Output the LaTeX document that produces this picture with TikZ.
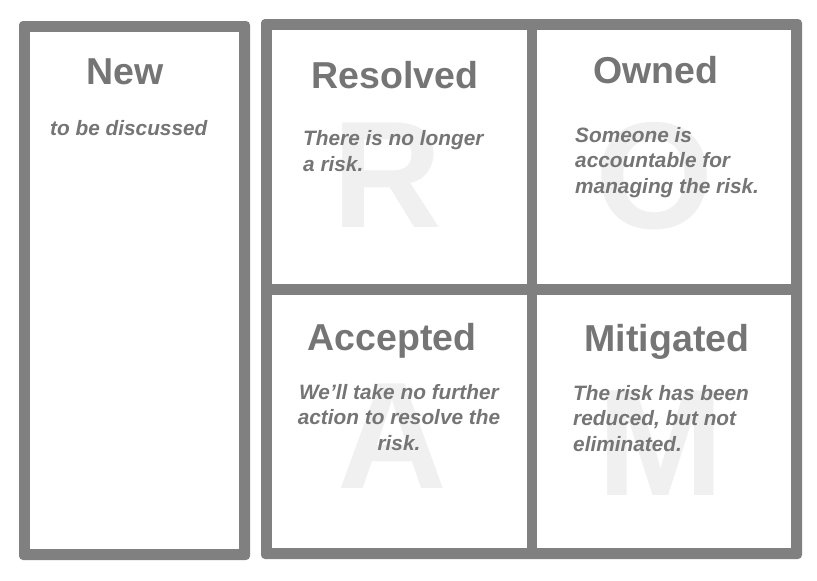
\documentclass[tikz,border=0pt]{standalone}
\usepackage{fontspec}
\setmainfont{Liberation Sans}
\definecolor{framegray}{HTML}{808080}
\definecolor{textgray}{HTML}{757575}
\definecolor{ghostgray}{HTML}{F0F0F0}
\tikzset{
  frame/.style={fill=framegray, rounded corners=4pt},
  cell/.style={fill=white},
  title/.style={inner sep=0pt, anchor=base, text=textgray,
    font=\fontsize{37.5}{45}\selectfont\bfseries},
  body/.style={inner sep=0pt, text=textgray,
    font=\fontsize{20.8}{25.5}\selectfont\bfseries\itshape},
  ghost/.style={inner sep=0pt, anchor=base, text=ghostgray,
    font=\fontsize{152}{160}\selectfont\bfseries},
}
\begin{document}
\begin{tikzpicture}[x=1pt,y=-1pt]
\useasboundingbox (0,0) rectangle (817,581);
\fill[white] (0,0) rectangle (817,581);

% left column: new items
\fill[frame] (19,21) rectangle (250,560);
\fill[cell] (30,32) rectangle (239,549);

% right block: 2x2 ROAM grid
\fill[frame] (261,19) rectangle (802,559);
\fill[cell] (272,30) rectangle (527,284);
\fill[cell] (537,30) rectangle (791,284);
\fill[cell] (272,295) rectangle (527,548);
\fill[cell] (537,295) rectangle (791,548);

% large background letters
\node[ghost] (gR) at (387,227) {R};
\node[ghost] (gO) at (655,228) {O};
\node[ghost] (gA) at (392,488) {A};
\node[ghost] (gM) at (661,495) {M};

% column headings
\node[title] (new) at (125,84) {New};
\node[title] (resolved) at (395,88) {Resolved};
\node[title] (owned) at (656,83) {Owned};
\node[title] (accepted) at (392,350) {Accepted};
\node[title] (mitigated) at (667,351) {Mitigated};

% descriptions (base anchor sits on the last line)
\node[body, anchor=base west] (newtxt) at (50,135) {to be discussed};
\node[body, anchor=base west, align=left] (restxt) at (303,171)
  {There is no longer\\a risk.};
\node[body, anchor=base west, align=left] (owntxt) at (575,193)
  {Someone is\\accountable for\\managing the risk.};
\node[body, anchor=base, align=center] (acctxt) at (399,450)
  {We’ll take no further\\action to resolve the\\risk.};
\node[body, anchor=base west, align=left] (mittxt) at (573,451)
  {The risk has been\\reduced, but not\\eliminated.};
\end{tikzpicture}
\end{document}
